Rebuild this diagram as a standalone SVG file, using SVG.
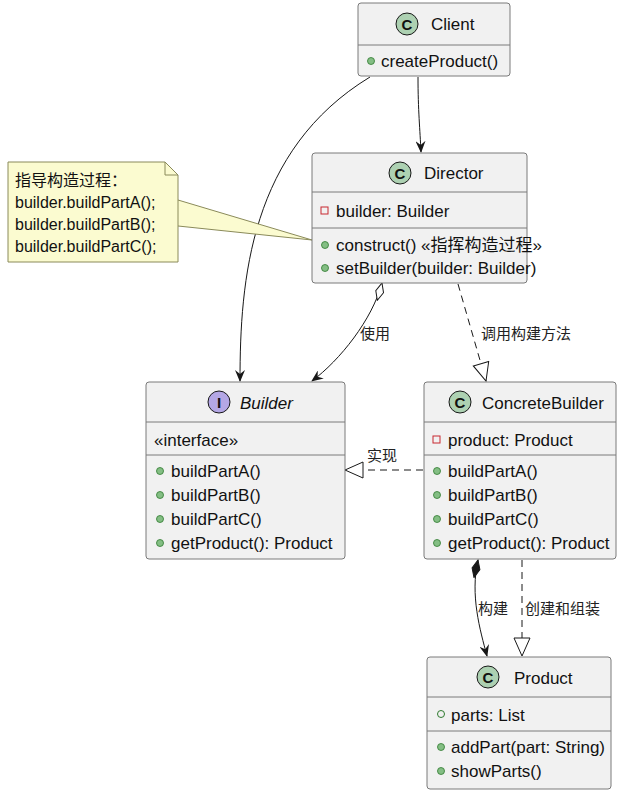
<svg xmlns="http://www.w3.org/2000/svg" width="625" height="793" viewBox="0 0 625 793">
<style>
.box{fill:#f1f1f1;stroke:#7a7a7a;stroke-width:1}
.sep{stroke:#7a7a7a;stroke-width:1}
text{font-family:"Liberation Sans",Arial,"Noto Sans CJK SC",sans-serif;font-size:17px;fill:#111}
.t{text-anchor:middle}
.lbl{font-size:15px;fill:#222}
.nt{font-size:16px}
.pub{fill:#84be84;stroke:#2f7a2f;stroke-width:0.8}
.priv{fill:none;stroke:#c82930;stroke-width:1}
.circ{fill:#add1b2;stroke:#181818;stroke-width:1}
.ln{fill:none;stroke:#181818;stroke-width:1}
.dash{stroke-dasharray:7,5}
</style>
<defs>
<marker id="arr" viewBox="0 0 12 10" refX="11" refY="5" markerWidth="12" markerHeight="10" orient="auto" markerUnits="userSpaceOnUse"><path d="M0,0 L12,5 L0,10 L4,5 Z" fill="#181818"/></marker>
<marker id="tri" viewBox="0 0 20 18" refX="19" refY="9" markerWidth="20" markerHeight="18" orient="auto" markerUnits="userSpaceOnUse"><path d="M1,1 L19,9 L1,17 Z" fill="#fff" stroke="#181818"/></marker>
<marker id="odia" viewBox="0 0 20 10" refX="1" refY="5" markerWidth="20" markerHeight="10" orient="auto" markerUnits="userSpaceOnUse"><path d="M1,5 L10,1 L19,5 L10,9 Z" fill="#fff" stroke="#181818"/></marker>
<marker id="fdia" viewBox="0 0 20 10" refX="1" refY="5" markerWidth="20" markerHeight="10" orient="auto" markerUnits="userSpaceOnUse"><path d="M1,5 L10,1 L19,5 L10,9 Z" fill="#181818" stroke="#181818"/></marker>
</defs>
<g id="connectors">
<path class="ln" d="M418,77 C418,110 420,130 421,152" marker-end="url(#arr)"/>
<path class="ln" d="M370,77 C250,150 240,280 240,381" marker-end="url(#arr)"/>
<path class="ln" d="M382,283 C372,320 340,360 312,381" marker-start="url(#odia)" marker-end="url(#arr)"/>
<text class="lbl" x="360" y="339">使用</text>
<path class="ln dash" d="M458,284 L486,381" marker-end="url(#tri)"/>
<text class="lbl" x="481" y="339">调用构建方法</text>
<path class="ln dash" d="M423,470 L345,470" marker-end="url(#tri)"/>
<text class="lbl" x="367" y="461">实现</text>
<path class="ln" d="M478,560 C470,595 480,630 487,656" marker-start="url(#fdia)" marker-end="url(#arr)"/>
<text class="lbl" x="478" y="614">构建</text>
<path class="ln dash" d="M522,560 L522,656" marker-end="url(#tri)"/>
<text class="lbl" x="525" y="614">创建和组装</text>
<path d="M178,200 L312,240 L178,226" fill="#fbfbd0" stroke="#8a8a5a" stroke-width="1"/>
</g>
<g id="note">
<path d="M8,162 L165,162 L178,175 L178,262 L8,262 Z" fill="#fbfbd0" stroke="#8a8a5a"/>
<path d="M165,162 L165,175 L178,175" fill="none" stroke="#8a8a5a"/>
<text class="nt" x="15" y="186">指导构造过程：</text>
<text class="nt" x="15" y="208">builder.buildPartA();</text>
<text class="nt" x="15" y="230">builder.buildPartB();</text>
<text class="nt" x="15" y="252">builder.buildPartC();</text>
</g>
<g id="Client">
<rect class="box" x="358" y="3" width="152" height="73" rx="3"/>
<line class="sep" x1="358" y1="45" x2="510" y2="45"/>
<circle class="circ" cx="407" cy="24" r="11"/><text class="t" x="407" y="30" style="font-weight:bold;font-size:15px">C</text>
<text x="431" y="30">Client</text>
<circle class="pub" cx="371" cy="61" r="3.5"/><text x="381" y="67">createProduct()</text>
</g>
<g id="Director">
<rect class="box" x="312" y="153" width="215" height="130" rx="3"/>
<line class="sep" x1="312" y1="192" x2="527" y2="192"/>
<line class="sep" x1="312" y1="228" x2="527" y2="228"/>
<circle class="circ" cx="400" cy="173" r="11"/><text class="t" x="400" y="179" style="font-weight:bold;font-size:15px">C</text>
<text x="424" y="179">Director</text>
<rect class="priv" x="321" y="207" width="7" height="7"/><text x="336" y="217">builder: Builder</text>
<circle class="pub" cx="325" cy="245" r="3.5"/><text x="336" y="251">construct() «指挥构造过程»</text>
<circle class="pub" cx="325" cy="268" r="3.5"/><text x="336" y="274">setBuilder(builder: Builder)</text>
</g>
<g id="Builder">
<rect class="box" x="146" y="382" width="199" height="177" rx="3"/>
<line class="sep" x1="146" y1="422" x2="345" y2="422"/>
<line class="sep" x1="146" y1="455" x2="345" y2="455"/>
<circle cx="219" cy="402" r="11" fill="#b4a7e5" stroke="#181818"/><text class="t" x="219" y="408" style="font-weight:bold;font-size:15px">I</text>
<text x="240" y="409" style="font-style:italic">Builder</text>
<text x="154" y="446">«interface»</text>
<circle class="pub" cx="160" cy="471" r="3.5"/><text x="171" y="477">buildPartA()</text>
<circle class="pub" cx="160" cy="495" r="3.5"/><text x="171" y="501">buildPartB()</text>
<circle class="pub" cx="160" cy="519" r="3.5"/><text x="171" y="525">buildPartC()</text>
<circle class="pub" cx="160" cy="543" r="3.5"/><text x="171" y="549">getProduct(): Product</text>
</g>
<g id="ConcreteBuilder">
<rect class="box" x="424" y="382" width="192" height="177" rx="3"/>
<line class="sep" x1="424" y1="422" x2="616" y2="422"/>
<line class="sep" x1="424" y1="455" x2="616" y2="455"/>
<circle class="circ" cx="460" cy="402" r="11"/><text class="t" x="460" y="408" style="font-weight:bold;font-size:15px">C</text>
<text x="482" y="409">ConcreteBuilder</text>
<rect class="priv" x="433" y="436" width="7" height="7"/><text x="448" y="446">product: Product</text>
<circle class="pub" cx="437" cy="471" r="3.5"/><text x="448" y="477">buildPartA()</text>
<circle class="pub" cx="437" cy="495" r="3.5"/><text x="448" y="501">buildPartB()</text>
<circle class="pub" cx="437" cy="519" r="3.5"/><text x="448" y="525">buildPartC()</text>
<circle class="pub" cx="437" cy="543" r="3.5"/><text x="448" y="549">getProduct(): Product</text>
</g>
<g id="Product">
<rect class="box" x="427" y="657" width="184" height="132" rx="3"/>
<line class="sep" x1="427" y1="697" x2="611" y2="697"/>
<line class="sep" x1="427" y1="731" x2="611" y2="731"/>
<circle class="circ" cx="488" cy="677" r="11"/><text class="t" x="488" y="683" style="font-weight:bold;font-size:15px">C</text>
<text x="514" y="684">Product</text>
<circle cx="441" cy="714" r="3.5" fill="none" stroke="#2f7a2f"/><text x="451" y="721">parts: List</text>
<circle class="pub" cx="441" cy="747" r="3.5"/><text x="451" y="753">addPart(part: String)</text>
<circle class="pub" cx="441" cy="771" r="3.5"/><text x="451" y="777">showParts()</text>
</g>
</svg>
